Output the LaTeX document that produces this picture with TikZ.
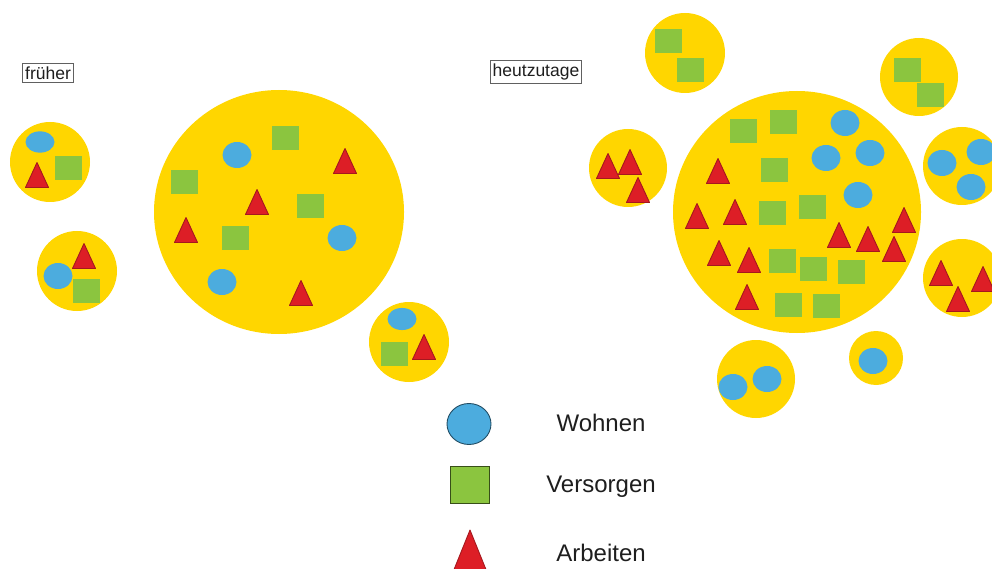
\documentclass[tikz,border=0pt]{standalone}
\usepackage{fontspec}
\setmainfont{Liberation Sans}
\definecolor{gelb}{RGB}{255,214,0}
\definecolor{blau}{RGB}{76,172,222}
\definecolor{gruen}{RGB}{139,197,63}
\definecolor{rot}{RGB}{221,30,38}
\definecolor{rotrand}{RGB}{165,24,30}
\definecolor{schrift}{RGB}{30,30,30}

\begin{document}
\begin{tikzpicture}[
  x=1pt, y=-1pt,
  zone/.style={fill=gelb},
  pics/wohnen/.style={code={\fill[blau] (0,0) ellipse[x radius=14.5pt, y radius=13pt];}},
  pics/versorgen/.style={code={\fill[gruen] (-13.5,-12) rectangle (13.5,12);}},
  pics/arbeiten/.style={code={\filldraw[fill=rot, draw=rotrand, line width=0.9pt, line join=round]
      (-11.5,12.5) -- (11.5,12.5) -- (0,-12.5) -- cycle;}},
  tag/.style={draw=gray!75!black, line width=0.7pt, inner xsep=2.5pt, inner ysep=3pt, fill=white,
      text=schrift, font=\fontsize{17.5}{19}\selectfont},
  legendtext/.style={text=schrift, font=\fontsize{24}{28}\selectfont}
]
\useasboundingbox (0,0) rectangle (992,569);
\clip (0,0) rectangle (992,569);

% ---------- früher ----------
\node[tag] (t1) at (48,73) {früher};

% large settlement
\fill[zone] (279,212) ellipse[x radius=125pt, y radius=122pt];
\pic at (237,155) {wohnen};
\pic at (342,238) {wohnen};
\pic at (222,282) {wohnen};
\pic at (285,138) {versorgen};
\pic at (184,182) {versorgen};
\pic at (310,206) {versorgen};
\pic at (235,238) {versorgen};
\pic at (345,161) {arbeiten};
\pic at (257,202) {arbeiten};
\pic at (186,230) {arbeiten};
\pic at (301,293) {arbeiten};

% small villages
\fill[zone] (50,162) circle[radius=40pt];
\pic[yscale=0.82] at (40,142) {wohnen};
\pic at (68,168) {versorgen};
\pic at (37,175) {arbeiten};

\fill[zone] (77,271) circle[radius=40pt];
\pic at (84,256) {arbeiten};
\pic at (58,276) {wohnen};
\pic at (86,291) {versorgen};

\fill[zone] (409,342) circle[radius=40pt];
\pic[yscale=0.85] at (402,319) {wohnen};
\pic at (394,354) {versorgen};
\pic at (424,347) {arbeiten};

% ---------- heutzutage ----------
\node[tag] (t2) at (536,72) {heutzutage};

% satellites
\fill[zone] (685,53) circle[radius=40pt];
\pic at (668,41) {versorgen};
\pic at (690,70) {versorgen};

\fill[zone] (919,77) circle[radius=39pt];
\pic at (907,70) {versorgen};
\pic at (930,95) {versorgen};

\fill[zone] (628,168) circle[radius=39pt];
\pic at (608,166) {arbeiten};
\pic at (630,162) {arbeiten};
\pic at (638,190) {arbeiten};

\fill[zone] (962,166) circle[radius=39pt];
\pic at (942,163) {wohnen};
\pic at (981,152) {wohnen};
\pic at (971,187) {wohnen};

\fill[zone] (962,278) circle[radius=39pt];
\pic at (941,273) {arbeiten};
\pic at (958,299) {arbeiten};
\pic at (983,279) {arbeiten};

\fill[zone] (756,379) circle[radius=39pt];
\pic at (733,387) {wohnen};
\pic at (767,379) {wohnen};

\fill[zone] (876,358) circle[radius=27pt];
\pic at (873,361) {wohnen};

% city
\fill[zone] (797,212) ellipse[x radius=124pt, y radius=121pt];
\pic at (743,131) {versorgen};
\pic at (783,122) {versorgen};
\pic at (774,170) {versorgen};
\pic at (772,213) {versorgen};
\pic at (812,207) {versorgen};
\pic at (782,261) {versorgen};
\pic at (813,269) {versorgen};
\pic at (851,272) {versorgen};
\pic at (788,305) {versorgen};
\pic at (826,306) {versorgen};
\pic at (845,123) {wohnen};
\pic at (826,158) {wohnen};
\pic at (870,153) {wohnen};
\pic at (858,195) {wohnen};
\pic at (718,171) {arbeiten};
\pic at (697,216) {arbeiten};
\pic at (735,212) {arbeiten};
\pic at (719,253) {arbeiten};
\pic at (749,260) {arbeiten};
\pic at (747,297) {arbeiten};
\pic at (839,235) {arbeiten};
\pic at (868,239) {arbeiten};
\pic at (904,220) {arbeiten};
\pic at (894,249) {arbeiten};

% ---------- legend ----------
\filldraw[fill=blau, draw=blau!45!black, line width=0.9pt] (469,424) ellipse[x radius=22pt, y radius=20.5pt];
\filldraw[fill=gruen, draw=gruen!40!black, line width=0.9pt] (450,466) rectangle (489,503);
\filldraw[fill=rot, draw=rotrand, line width=0.9pt, line join=round] (451,577) -- (489,577) -- (470,530) -- cycle;
\node[legendtext] (lw) at (601,423) {Wohnen};
\node[legendtext] (lv) at (601,487) {Versorgen};
\node[legendtext] (la) at (601,553) {Arbeiten};
\end{tikzpicture}
\end{document}
